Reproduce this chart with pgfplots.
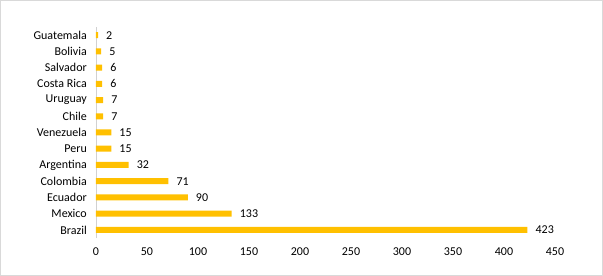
\documentclass[border=0pt]{standalone}
\usepackage{pgfplots}
\pgfplotsset{compat=1.18}
\usepackage{fontspec}
\setmainfont{Carlito}
\definecolor{gold}{HTML}{FFC000}
\begin{document}
\fontsize{12pt}{14pt}\selectfont
\begin{tikzpicture}
\useasboundingbox (-96pt,-38pt) rectangle (507pt,238pt);
\draw[color=black!15, line width=1pt] (-95.5pt,-37.5pt) rectangle (506.5pt,237.5pt);
\begin{axis}[at={(0pt,0pt)}, anchor=south west, scale only axis,
  width=459pt, height=211pt,
  xmin=0, xmax=450, ymin=-0.5, ymax=12.5,
  xtick={0,50,...,450}, ytick={0,...,12},
  yticklabels={Brazil,Mexico,Ecuador,Colombia,Argentina,Peru,Venezuela,Chile,Uruguay,Costa Rica,Salvador,Bolivia,Guatemala},
  axis x line*=bottom, x axis line style={draw=none},
  axis y line*=left, y axis line style={draw=black!18, line width=0.8pt, -},
  major tick length=0pt,
  /pgf/number format/assume math mode=true,
  ticklabel style={font=\fontsize{12pt}{14pt}\selectfont, text=black},
  yticklabel style={xshift=-5pt},
  xticklabel style={yshift=-6pt},
  xbar, bar width=6pt,
  nodes near coords,
  nodes near coords style={font=\fontsize{12pt}{14pt}\selectfont, text=black, anchor=west, xshift=4pt},
  clip=false,
]
\addplot[fill=gold, draw=none] coordinates {
(423,0) (133,1) (90,2) (71,3) (32,4) (15,5) (15,6) (7,7) (7,8) (6,9) (6,10) (5,11) (2,12)};
\end{axis}
\end{tikzpicture}
\end{document}
